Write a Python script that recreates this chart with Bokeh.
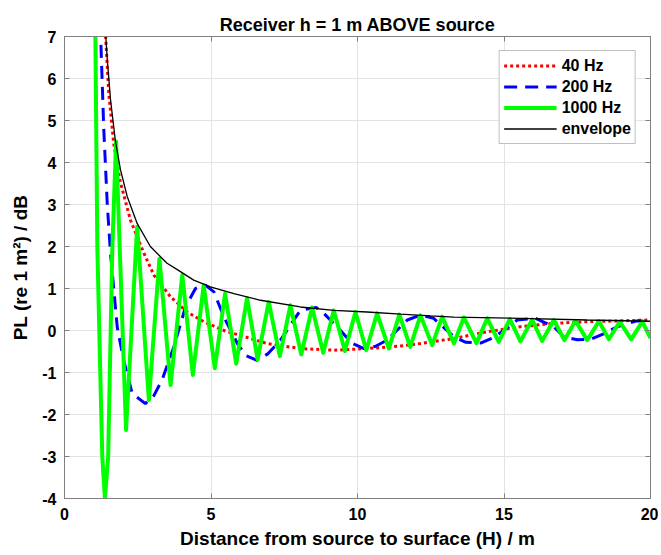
from bokeh.plotting import figure
from bokeh.models import LinearAxis, Legend, LegendItem, FixedTicker, Range1d
from bokeh.embed import file_html
from bokeh.resources import INLINE

# ---- data ----
x40 = [1.38, 1.51, 1.68, 1.90, 2.25, 2.71, 3.05, 3.62, 4.19, 4.75, 5.44, 6.35, 6.92,
       8.05, 9.19, 10.33, 11.47, 12.15, 13.29, 14.43, 15.56, 16.70, 17.84, 18.97, 20.0]
y40 = [7.3, 5.66, 4.45, 3.55, 2.63, 1.84, 1.32, 0.80, 0.44, 0.21, 0.0, -0.19, -0.31,
       -0.43, -0.47, -0.43, -0.37, -0.31, -0.19, -0.03, 0.09, 0.17, 0.21, 0.23, 0.25]

x200 = [1.22, 1.34, 1.46, 1.57, 1.80, 2.02, 2.31, 2.76, 3.05, 3.33, 3.73, 4.13, 4.47,
        4.81, 5.10, 5.44, 5.90, 6.20, 6.57, 6.95, 7.37, 8.05, 8.59,
        8.85, 9.42, 9.80, 10.22, 10.60, 11.01, 11.70, 12.15, 12.60, 13.29, 13.70, 14.20,
        14.60, 14.99, 15.45, 16.08, 16.70, 17.04, 17.50, 17.95, 18.40, 18.86, 19.54, 20.0]
y200 = [7.3, 4.8, 3.0, 1.84, 0.08, -0.71, -1.50, -1.74, -1.55, -1.18, -0.39, 0.56, 1.0,
        1.08, 0.92, 0.32, -0.31, -0.60, -0.71, -0.55, -0.23, 0.48, 0.55,
        0.41, 0.0, -0.30, -0.43, -0.38, -0.23, 0.25, 0.37, 0.29, -0.15, -0.28, -0.30,
        -0.18, 0.0, 0.25, 0.29, 0.09, -0.15, -0.22, -0.21, -0.08, 0.09, 0.23, 0.21]

x1000 = [1.05, 1.12, 1.23, 1.29, 1.38, 1.49, 1.54, 1.63, 1.76, 2.10, 2.48, 2.88, 3.24,
         3.62, 4.02, 4.38, 4.75, 5.13, 5.48,
         5.86, 6.23, 6.59, 6.97, 7.35, 7.71, 8.08, 8.45, 8.83, 9.19, 9.57, 9.93, 10.30,
         10.67, 11.07, 11.43, 11.80, 12.15, 12.55, 12.89, 13.29, 13.63, 14.06, 14.43,
         14.82, 15.20, 15.56, 15.96, 16.30, 16.70, 17.06, 17.44, 17.84, 18.24, 18.58,
         18.95, 19.34, 19.72, 20.0]
y1000 = [7.3, 2.0, -1.27, -3.0, -4.0, -3.0, -1.27, 1.9, 4.5, -2.37, 2.47, -1.66, 1.71,
         -1.30, 1.32, -1.06, 1.08, -0.90, 0.88,
         -0.79, 0.77, -0.69, 0.68, -0.61, 0.60, -0.57, 0.55, -0.53, 0.48, -0.49, 0.44, -0.47,
         0.41, -0.43, 0.38, -0.39, 0.36, -0.35, 0.33, -0.31, 0.31, -0.30, 0.29,
         -0.27, 0.27, -0.26, 0.26, -0.25, 0.25, -0.23, 0.23, -0.23, 0.22, -0.21,
         0.21, -0.21, 0.21, -0.18]

xenv = [1.38, 1.46, 1.57, 1.74, 1.91, 2.14, 2.48, 2.93, 3.50, 3.85, 4.41, 4.98, 5.78,
        6.69, 8.05, 9.19, 10.33, 11.47, 12.49, 13.29, 15.56, 17.84, 20.0]
yenv = [7.3, 6.45, 5.50, 4.50, 3.83, 3.19, 2.55, 2.00, 1.60, 1.45, 1.20, 1.04, 0.88,
        0.72, 0.56, 0.48, 0.44, 0.39, 0.35, 0.32, 0.29, 0.25, 0.22]

xticks = [0, 5, 10, 15, 20]
yticks = [-4, -3, -2, -1, 0, 1, 2, 3, 4, 5, 6, 7]
labels = ["40 Hz", "200 Hz", "1000 Hz", "envelope"]

FONT = "Liberation Sans"
AX = "#808080"

p = figure(width=658, height=554, x_range=Range1d(0, 20), y_range=Range1d(-4, 7),
           output_backend="svg", toolbar_location=None,
           min_border_left=64, min_border_right=8, min_border_top=36, min_border_bottom=56,
           title="Receiver h = 1 m ABOVE source")
p.title.align = "center"
p.title.text_font = FONT
p.title.text_font_size = "18px"
p.title.text_font_style = "bold"
p.title.text_color = "black"
p.title.standoff = 4
p.outline_line_color = AX
p.background_fill_color = "white"
p.border_fill_color = "white"

r40 = p.line(x40, y40, line_color="red", line_width=3, line_dash="3 3")
r200 = p.line(x200, y200, line_color="blue", line_width=3, line_dash="13 8")
r1000 = p.line(x1000, y1000, line_color="#00ff00", line_width=4, line_join="round")
renv = p.line(xenv, yenv, line_color="black", line_width=1.3)

for ax in (p.xaxis[0], p.yaxis[0]):
    ax.major_label_text_font = FONT
    ax.major_label_text_font_size = "16px"
    ax.major_label_text_font_style = "bold"
    ax.major_label_text_color = "black"
    ax.axis_label_text_font = FONT
    ax.axis_label_text_font_size = "19px"
    ax.axis_label_text_font_style = "bold"
    ax.axis_label_text_color = "black"
    ax.major_tick_in = 5
    ax.major_tick_out = 0
    ax.minor_tick_line_color = None
    ax.axis_line_color = AX
    ax.major_tick_line_color = AX

p.xaxis[0].ticker = FixedTicker(ticks=xticks)
p.yaxis[0].ticker = FixedTicker(ticks=yticks)
p.xaxis[0].major_label_overrides = {t: str(t) for t in xticks}
p.yaxis[0].major_label_overrides = {t: str(t) for t in yticks}
p.xaxis[0].axis_label = "Distance from source to surface (H) / m"
p.yaxis[0].axis_label = "PL (re 1 m\u00b2) / dB"
p.xaxis[0].major_label_standoff = 9
p.yaxis[0].major_label_standoff = 8
p.xaxis[0].axis_label_standoff = 5
p.yaxis[0].axis_label_standoff = 8

top = LinearAxis(ticker=FixedTicker(ticks=xticks), major_label_text_color=None,
                 major_tick_in=5, major_tick_out=0, minor_tick_line_color=None,
                 axis_line_color=AX, major_tick_line_color=AX, major_label_standoff=0)
right = LinearAxis(ticker=FixedTicker(ticks=yticks), major_label_text_color=None,
                   major_tick_in=5, major_tick_out=0, minor_tick_line_color=None,
                   axis_line_color=AX, major_tick_line_color=AX, major_label_standoff=0)
p.add_layout(top, "above")
p.add_layout(right, "right")

p.xgrid.ticker = FixedTicker(ticks=xticks)
p.ygrid.ticker = FixedTicker(ticks=yticks)
p.grid.grid_line_color = "#e3e3e3"
p.grid.grid_line_width = 1

legend = Legend(items=[LegendItem(label=labels[0], renderers=[r40]),
                       LegendItem(label=labels[1], renderers=[r200]),
                       LegendItem(label=labels[2], renderers=[r1000]),
                       LegendItem(label=labels[3], renderers=[renv])],
                location="top_right")
legend.margin = 14
legend.padding = 4
legend.spacing = 0
legend.glyph_width = 53
legend.glyph_height = 21
legend.label_height = 21
legend.label_standoff = 5
legend.label_text_font = FONT
legend.label_text_font_size = "16px"
legend.label_text_font_style = "bold"
legend.label_text_color = "black"
legend.border_line_color = "#808080"
legend.background_fill_alpha = 1
p.add_layout(legend)

open("out.html", "w").write(file_html(p, INLINE))
